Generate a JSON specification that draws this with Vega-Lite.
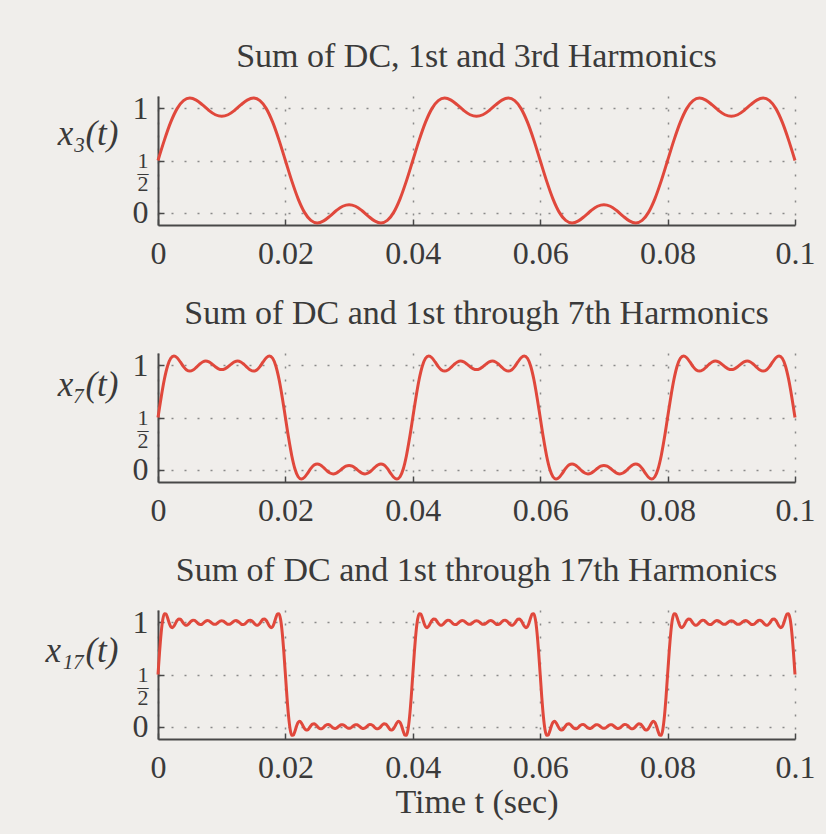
{
"$schema": "https://vega.github.io/schema/vega-lite/v6.json",
"background": "#f0eeeb",
"padding": {"left": 45, "top": 40, "right": 12, "bottom": 18},
"spacing": 128,
"bounds": "flush",
"config": {
"font": "Liberation Serif",
"view": {"stroke": null},
"axis": {"domainColor": "#484848", "domainWidth": 2, "tickColor": "#484848", "tickWidth": 1.5, "tickSize": -6, "grid": true, "gridColor": "#8a8a8a", "gridDash": [2, 11], "gridWidth": 1.5, "labelFont": "Liberation Serif", "labelFontSize": 32, "labelColor": "#3a3a3a", "labelFlush": false, "titleFont": "Liberation Serif", "titleFontSize": 34, "titleColor": "#3a3a3a", "titleFontWeight": "normal"},
"axisX": {"labelPadding": 19},
"axisY": {"labelPadding": 16},
"title": {"font": "Liberation Serif", "fontSize": 34, "fontWeight": "normal", "color": "#3a3a3a", "frame": "group", "anchor": "middle", "baseline": "alphabetic", "offset": 18}
},
"datasets": {
"x3": [
{"t":0,"x":0.5},{"t":0.001,"x":0.6959},{"t":0.002,"x":0.8684},{"t":0.003,"x":0.9986},{"t":0.004,"x":1.076},{"t":0.005,"x":1.1002},{"t":0.006,"x":1.0806},{"t":0.007,"x":1.034},{"t":0.008,"x":0.9807},{"t":0.009,"x":0.9397},
{"t":0.01,"x":0.9244},{"t":0.011,"x":0.9397},{"t":0.012,"x":0.9807},{"t":0.013,"x":1.034},{"t":0.014,"x":1.0806},{"t":0.015,"x":1.1002},{"t":0.016,"x":1.076},{"t":0.017,"x":0.9986},{"t":0.018,"x":0.8684},{"t":0.019,"x":0.6959},
{"t":0.02,"x":0.5},{"t":0.021,"x":0.3041},{"t":0.022,"x":0.1316},{"t":0.023,"x":0.0014},{"t":0.024,"x":-0.076},{"t":0.025,"x":-0.1002},{"t":0.026,"x":-0.0806},{"t":0.027,"x":-0.034},{"t":0.028,"x":0.0193},{"t":0.029,"x":0.0603},
{"t":0.03,"x":0.0756},{"t":0.031,"x":0.0603},{"t":0.032,"x":0.0193},{"t":0.033,"x":-0.034},{"t":0.034,"x":-0.0806},{"t":0.035,"x":-0.1002},{"t":0.036,"x":-0.076},{"t":0.037,"x":0.0014},{"t":0.038,"x":0.1316},{"t":0.039,"x":0.3041},
{"t":0.04,"x":0.5},{"t":0.041,"x":0.6959},{"t":0.042,"x":0.8684},{"t":0.043,"x":0.9986},{"t":0.044,"x":1.076},{"t":0.045,"x":1.1002},{"t":0.046,"x":1.0806},{"t":0.047,"x":1.034},{"t":0.048,"x":0.9807},{"t":0.049,"x":0.9397},
{"t":0.05,"x":0.9244},{"t":0.051,"x":0.9397},{"t":0.052,"x":0.9807},{"t":0.053,"x":1.034},{"t":0.054,"x":1.0806},{"t":0.055,"x":1.1002},{"t":0.056,"x":1.076},{"t":0.057,"x":0.9986},{"t":0.058,"x":0.8684},{"t":0.059,"x":0.6959},
{"t":0.06,"x":0.5},{"t":0.061,"x":0.3041},{"t":0.062,"x":0.1316},{"t":0.063,"x":0.0014},{"t":0.064,"x":-0.076},{"t":0.065,"x":-0.1002},{"t":0.066,"x":-0.0806},{"t":0.067,"x":-0.034},{"t":0.068,"x":0.0193},{"t":0.069,"x":0.0603},
{"t":0.07,"x":0.0756},{"t":0.071,"x":0.0603},{"t":0.072,"x":0.0193},{"t":0.073,"x":-0.034},{"t":0.074,"x":-0.0806},{"t":0.075,"x":-0.1002},{"t":0.076,"x":-0.076},{"t":0.077,"x":0.0014},{"t":0.078,"x":0.1316},{"t":0.079,"x":0.3041},
{"t":0.08,"x":0.5},{"t":0.081,"x":0.6959},{"t":0.082,"x":0.8684},{"t":0.083,"x":0.9986},{"t":0.084,"x":1.076},{"t":0.085,"x":1.1002},{"t":0.086,"x":1.0806},{"t":0.087,"x":1.034},{"t":0.088,"x":0.9807},{"t":0.089,"x":0.9397},
{"t":0.09,"x":0.9244},{"t":0.091,"x":0.9397},{"t":0.092,"x":0.9807},{"t":0.093,"x":1.034},{"t":0.094,"x":1.0806},{"t":0.095,"x":1.1002},{"t":0.096,"x":1.076},{"t":0.097,"x":0.9986},{"t":0.098,"x":0.8684},{"t":0.099,"x":0.6959},
{"t":0.1,"x":0.5}
],
"x7": [
{"t":0,"x":0.5},{"t":0.0005,"x":0.6957},{"t":0.001,"x":0.867},{"t":0.0015,"x":0.9947},{"t":0.002,"x":1.0693},{"t":0.0025,"x":1.0921},{"t":0.003,"x":1.0744},{"t":0.0035,"x":1.0339},{"t":0.004,"x":0.9895},{"t":0.0045,"x":0.9572},
{"t":0.005,"x":0.9459},{"t":0.0055,"x":0.9561},{"t":0.006,"x":0.9814},{"t":0.0065,"x":1.011},{"t":0.007,"x":1.0338},{"t":0.0075,"x":1.0423},{"t":0.008,"x":1.0342},{"t":0.0085,"x":1.0135},{"t":0.009,"x":0.9885},{"t":0.0095,"x":0.9684},
{"t":0.01,"x":0.9608},{"t":0.0105,"x":0.9684},{"t":0.011,"x":0.9885},{"t":0.0115,"x":1.0135},{"t":0.012,"x":1.0342},{"t":0.0125,"x":1.0423},{"t":0.013,"x":1.0338},{"t":0.0135,"x":1.011},{"t":0.014,"x":0.9814},{"t":0.0145,"x":0.9561},
{"t":0.015,"x":0.9459},{"t":0.0155,"x":0.9572},{"t":0.016,"x":0.9895},{"t":0.0165,"x":1.0339},{"t":0.017,"x":1.0744},{"t":0.0175,"x":1.0921},{"t":0.018,"x":1.0693},{"t":0.0185,"x":0.9947},{"t":0.019,"x":0.867},{"t":0.0195,"x":0.6957},
{"t":0.02,"x":0.5},{"t":0.0205,"x":0.3043},{"t":0.021,"x":0.133},{"t":0.0215,"x":0.0053},{"t":0.022,"x":-0.0693},{"t":0.0225,"x":-0.0921},{"t":0.023,"x":-0.0744},{"t":0.0235,"x":-0.0339},{"t":0.024,"x":0.0105},{"t":0.0245,"x":0.0428},
{"t":0.025,"x":0.0541},{"t":0.0255,"x":0.0439},{"t":0.026,"x":0.0186},{"t":0.0265,"x":-0.011},{"t":0.027,"x":-0.0338},{"t":0.0275,"x":-0.0423},{"t":0.028,"x":-0.0342},{"t":0.0285,"x":-0.0135},{"t":0.029,"x":0.0115},{"t":0.0295,"x":0.0316},
{"t":0.03,"x":0.0392},{"t":0.0305,"x":0.0316},{"t":0.031,"x":0.0115},{"t":0.0315,"x":-0.0135},{"t":0.032,"x":-0.0342},{"t":0.0325,"x":-0.0423},{"t":0.033,"x":-0.0338},{"t":0.0335,"x":-0.011},{"t":0.034,"x":0.0186},{"t":0.0345,"x":0.0439},
{"t":0.035,"x":0.0541},{"t":0.0355,"x":0.0428},{"t":0.036,"x":0.0105},{"t":0.0365,"x":-0.0339},{"t":0.037,"x":-0.0744},{"t":0.0375,"x":-0.0921},{"t":0.038,"x":-0.0693},{"t":0.0385,"x":0.0053},{"t":0.039,"x":0.133},{"t":0.0395,"x":0.3043},
{"t":0.04,"x":0.5},{"t":0.0405,"x":0.6957},{"t":0.041,"x":0.867},{"t":0.0415,"x":0.9947},{"t":0.042,"x":1.0693},{"t":0.0425,"x":1.0921},{"t":0.043,"x":1.0744},{"t":0.0435,"x":1.0339},{"t":0.044,"x":0.9895},{"t":0.0445,"x":0.9572},
{"t":0.045,"x":0.9459},{"t":0.0455,"x":0.9561},{"t":0.046,"x":0.9814},{"t":0.0465,"x":1.011},{"t":0.047,"x":1.0338},{"t":0.0475,"x":1.0423},{"t":0.048,"x":1.0342},{"t":0.0485,"x":1.0135},{"t":0.049,"x":0.9885},{"t":0.0495,"x":0.9684},
{"t":0.05,"x":0.9608},{"t":0.0505,"x":0.9684},{"t":0.051,"x":0.9885},{"t":0.0515,"x":1.0135},{"t":0.052,"x":1.0342},{"t":0.0525,"x":1.0423},{"t":0.053,"x":1.0338},{"t":0.0535,"x":1.011},{"t":0.054,"x":0.9814},{"t":0.0545,"x":0.9561},
{"t":0.055,"x":0.9459},{"t":0.0555,"x":0.9572},{"t":0.056,"x":0.9895},{"t":0.0565,"x":1.0339},{"t":0.057,"x":1.0744},{"t":0.0575,"x":1.0921},{"t":0.058,"x":1.0693},{"t":0.0585,"x":0.9947},{"t":0.059,"x":0.867},{"t":0.0595,"x":0.6957},
{"t":0.06,"x":0.5},{"t":0.0605,"x":0.3043},{"t":0.061,"x":0.133},{"t":0.0615,"x":0.0053},{"t":0.062,"x":-0.0693},{"t":0.0625,"x":-0.0921},{"t":0.063,"x":-0.0744},{"t":0.0635,"x":-0.0339},{"t":0.064,"x":0.0105},{"t":0.0645,"x":0.0428},
{"t":0.065,"x":0.0541},{"t":0.0655,"x":0.0439},{"t":0.066,"x":0.0186},{"t":0.0665,"x":-0.011},{"t":0.067,"x":-0.0338},{"t":0.0675,"x":-0.0423},{"t":0.068,"x":-0.0342},{"t":0.0685,"x":-0.0135},{"t":0.069,"x":0.0115},{"t":0.0695,"x":0.0316},
{"t":0.07,"x":0.0392},{"t":0.0705,"x":0.0316},{"t":0.071,"x":0.0115},{"t":0.0715,"x":-0.0135},{"t":0.072,"x":-0.0342},{"t":0.0725,"x":-0.0423},{"t":0.073,"x":-0.0338},{"t":0.0735,"x":-0.011},{"t":0.074,"x":0.0186},{"t":0.0745,"x":0.0439},
{"t":0.075,"x":0.0541},{"t":0.0755,"x":0.0428},{"t":0.076,"x":0.0105},{"t":0.0765,"x":-0.0339},{"t":0.077,"x":-0.0744},{"t":0.0775,"x":-0.0921},{"t":0.078,"x":-0.0693},{"t":0.0785,"x":0.0053},{"t":0.079,"x":0.133},{"t":0.0795,"x":0.3043},
{"t":0.08,"x":0.5},{"t":0.0805,"x":0.6957},{"t":0.081,"x":0.867},{"t":0.0815,"x":0.9947},{"t":0.082,"x":1.0693},{"t":0.0825,"x":1.0921},{"t":0.083,"x":1.0744},{"t":0.0835,"x":1.0339},{"t":0.084,"x":0.9895},{"t":0.0845,"x":0.9572},
{"t":0.085,"x":0.9459},{"t":0.0855,"x":0.9561},{"t":0.086,"x":0.9814},{"t":0.0865,"x":1.011},{"t":0.087,"x":1.0338},{"t":0.0875,"x":1.0423},{"t":0.088,"x":1.0342},{"t":0.0885,"x":1.0135},{"t":0.089,"x":0.9885},{"t":0.0895,"x":0.9684},
{"t":0.09,"x":0.9608},{"t":0.0905,"x":0.9684},{"t":0.091,"x":0.9885},{"t":0.0915,"x":1.0135},{"t":0.092,"x":1.0342},{"t":0.0925,"x":1.0423},{"t":0.093,"x":1.0338},{"t":0.0935,"x":1.011},{"t":0.094,"x":0.9814},{"t":0.0945,"x":0.9561},
{"t":0.095,"x":0.9459},{"t":0.0955,"x":0.9572},{"t":0.096,"x":0.9895},{"t":0.0965,"x":1.0339},{"t":0.097,"x":1.0744},{"t":0.0975,"x":1.0921},{"t":0.098,"x":1.0693},{"t":0.0985,"x":0.9947},{"t":0.099,"x":0.867},{"t":0.0995,"x":0.6957},
{"t":0.1,"x":0.5}
],
"x17": [
{"t":0,"x":0.5},{"t":0.00025,"x":0.7189},{"t":0.0005,"x":0.9031},{"t":0.00075,"x":1.0278},{"t":0.001,"x":1.0847},{"t":0.00125,"x":1.0828},{"t":0.0015,"x":1.0444},{"t":0.00175,"x":0.9962},{"t":0.002,"x":0.9609},{"t":0.00225,"x":0.9505},
{"t":0.0025,"x":0.9644},{"t":0.00275,"x":0.9921},{"t":0.003,"x":1.0192},{"t":0.00325,"x":1.0337},{"t":0.0035,"x":1.031},{"t":0.00375,"x":1.0143},{"t":0.004,"x":0.9929},{"t":0.00425,"x":0.9769},{"t":0.0045,"x":0.9731},{"t":0.00475,"x":0.9821},
{"t":0.005,"x":0.9987},{"t":0.00525,"x":1.0146},{"t":0.0055,"x":1.0226},{"t":0.00575,"x":1.0196},{"t":0.006,"x":1.0075},{"t":0.00625,"x":0.9926},{"t":0.0065,"x":0.9819},{"t":0.00675,"x":0.9802},{"t":0.007,"x":0.988},{"t":0.00725,"x":1.001},
{"t":0.0075,"x":1.0132},{"t":0.00775,"x":1.0187},{"t":0.008,"x":1.0152},{"t":0.00825,"x":1.0046},{"t":0.0085,"x":0.992},{"t":0.00875,"x":0.9835},{"t":0.009,"x":0.983},{"t":0.00925,"x":0.9906},{"t":0.0095,"x":1.0027},{"t":0.00975,"x":1.0134},
{"t":0.01,"x":1.0176},{"t":0.01025,"x":1.0134},{"t":0.0105,"x":1.0027},{"t":0.01075,"x":0.9906},{"t":0.011,"x":0.983},{"t":0.01125,"x":0.9835},{"t":0.0115,"x":0.992},{"t":0.01175,"x":1.0046},{"t":0.012,"x":1.0152},{"t":0.01225,"x":1.0187},
{"t":0.0125,"x":1.0132},{"t":0.01275,"x":1.001},{"t":0.013,"x":0.988},{"t":0.01325,"x":0.9802},{"t":0.0135,"x":0.9819},{"t":0.01375,"x":0.9926},{"t":0.014,"x":1.0075},{"t":0.01425,"x":1.0196},{"t":0.0145,"x":1.0226},{"t":0.01475,"x":1.0146},
{"t":0.015,"x":0.9987},{"t":0.01525,"x":0.9821},{"t":0.0155,"x":0.9731},{"t":0.01575,"x":0.9769},{"t":0.016,"x":0.9929},{"t":0.01625,"x":1.0143},{"t":0.0165,"x":1.031},{"t":0.01675,"x":1.0337},{"t":0.017,"x":1.0192},{"t":0.01725,"x":0.9921},
{"t":0.0175,"x":0.9644},{"t":0.01775,"x":0.9505},{"t":0.018,"x":0.9609},{"t":0.01825,"x":0.9962},{"t":0.0185,"x":1.0444},{"t":0.01875,"x":1.0828},{"t":0.019,"x":1.0847},{"t":0.01925,"x":1.0278},{"t":0.0195,"x":0.9031},{"t":0.01975,"x":0.7189},
{"t":0.02,"x":0.5},{"t":0.02025,"x":0.2811},{"t":0.0205,"x":0.0969},{"t":0.02075,"x":-0.0278},{"t":0.021,"x":-0.0847},{"t":0.02125,"x":-0.0828},{"t":0.0215,"x":-0.0444},{"t":0.02175,"x":0.0038},{"t":0.022,"x":0.0391},{"t":0.02225,"x":0.0495},
{"t":0.0225,"x":0.0356},{"t":0.02275,"x":0.0079},{"t":0.023,"x":-0.0192},{"t":0.02325,"x":-0.0337},{"t":0.0235,"x":-0.031},{"t":0.02375,"x":-0.0143},{"t":0.024,"x":0.0071},{"t":0.02425,"x":0.0231},{"t":0.0245,"x":0.0269},{"t":0.02475,"x":0.0179},
{"t":0.025,"x":0.0013},{"t":0.02525,"x":-0.0146},{"t":0.0255,"x":-0.0226},{"t":0.02575,"x":-0.0196},{"t":0.026,"x":-0.0075},{"t":0.02625,"x":0.0074},{"t":0.0265,"x":0.0181},{"t":0.02675,"x":0.0198},{"t":0.027,"x":0.012},{"t":0.02725,"x":-0.001},
{"t":0.0275,"x":-0.0132},{"t":0.02775,"x":-0.0187},{"t":0.028,"x":-0.0152},{"t":0.02825,"x":-0.0046},{"t":0.0285,"x":0.008},{"t":0.02875,"x":0.0165},{"t":0.029,"x":0.017},{"t":0.02925,"x":0.0094},{"t":0.0295,"x":-0.0027},{"t":0.02975,"x":-0.0134},
{"t":0.03,"x":-0.0176},{"t":0.03025,"x":-0.0134},{"t":0.0305,"x":-0.0027},{"t":0.03075,"x":0.0094},{"t":0.031,"x":0.017},{"t":0.03125,"x":0.0165},{"t":0.0315,"x":0.008},{"t":0.03175,"x":-0.0046},{"t":0.032,"x":-0.0152},{"t":0.03225,"x":-0.0187},
{"t":0.0325,"x":-0.0132},{"t":0.03275,"x":-0.001},{"t":0.033,"x":0.012},{"t":0.03325,"x":0.0198},{"t":0.0335,"x":0.0181},{"t":0.03375,"x":0.0074},{"t":0.034,"x":-0.0075},{"t":0.03425,"x":-0.0196},{"t":0.0345,"x":-0.0226},{"t":0.03475,"x":-0.0146},
{"t":0.035,"x":0.0013},{"t":0.03525,"x":0.0179},{"t":0.0355,"x":0.0269},{"t":0.03575,"x":0.0231},{"t":0.036,"x":0.0071},{"t":0.03625,"x":-0.0143},{"t":0.0365,"x":-0.031},{"t":0.03675,"x":-0.0337},{"t":0.037,"x":-0.0192},{"t":0.03725,"x":0.0079},
{"t":0.0375,"x":0.0356},{"t":0.03775,"x":0.0495},{"t":0.038,"x":0.0391},{"t":0.03825,"x":0.0038},{"t":0.0385,"x":-0.0444},{"t":0.03875,"x":-0.0828},{"t":0.039,"x":-0.0847},{"t":0.03925,"x":-0.0278},{"t":0.0395,"x":0.0969},{"t":0.03975,"x":0.2811},
{"t":0.04,"x":0.5},{"t":0.04025,"x":0.7189},{"t":0.0405,"x":0.9031},{"t":0.04075,"x":1.0278},{"t":0.041,"x":1.0847},{"t":0.04125,"x":1.0828},{"t":0.0415,"x":1.0444},{"t":0.04175,"x":0.9962},{"t":0.042,"x":0.9609},{"t":0.04225,"x":0.9505},
{"t":0.0425,"x":0.9644},{"t":0.04275,"x":0.9921},{"t":0.043,"x":1.0192},{"t":0.04325,"x":1.0337},{"t":0.0435,"x":1.031},{"t":0.04375,"x":1.0143},{"t":0.044,"x":0.9929},{"t":0.04425,"x":0.9769},{"t":0.0445,"x":0.9731},{"t":0.04475,"x":0.9821},
{"t":0.045,"x":0.9987},{"t":0.04525,"x":1.0146},{"t":0.0455,"x":1.0226},{"t":0.04575,"x":1.0196},{"t":0.046,"x":1.0075},{"t":0.04625,"x":0.9926},{"t":0.0465,"x":0.9819},{"t":0.04675,"x":0.9802},{"t":0.047,"x":0.988},{"t":0.04725,"x":1.001},
{"t":0.0475,"x":1.0132},{"t":0.04775,"x":1.0187},{"t":0.048,"x":1.0152},{"t":0.04825,"x":1.0046},{"t":0.0485,"x":0.992},{"t":0.04875,"x":0.9835},{"t":0.049,"x":0.983},{"t":0.04925,"x":0.9906},{"t":0.0495,"x":1.0027},{"t":0.04975,"x":1.0134},
{"t":0.05,"x":1.0176},{"t":0.05025,"x":1.0134},{"t":0.0505,"x":1.0027},{"t":0.05075,"x":0.9906},{"t":0.051,"x":0.983},{"t":0.05125,"x":0.9835},{"t":0.0515,"x":0.992},{"t":0.05175,"x":1.0046},{"t":0.052,"x":1.0152},{"t":0.05225,"x":1.0187},
{"t":0.0525,"x":1.0132},{"t":0.05275,"x":1.001},{"t":0.053,"x":0.988},{"t":0.05325,"x":0.9802},{"t":0.0535,"x":0.9819},{"t":0.05375,"x":0.9926},{"t":0.054,"x":1.0075},{"t":0.05425,"x":1.0196},{"t":0.0545,"x":1.0226},{"t":0.05475,"x":1.0146},
{"t":0.055,"x":0.9987},{"t":0.05525,"x":0.9821},{"t":0.0555,"x":0.9731},{"t":0.05575,"x":0.9769},{"t":0.056,"x":0.9929},{"t":0.05625,"x":1.0143},{"t":0.0565,"x":1.031},{"t":0.05675,"x":1.0337},{"t":0.057,"x":1.0192},{"t":0.05725,"x":0.9921},
{"t":0.0575,"x":0.9644},{"t":0.05775,"x":0.9505},{"t":0.058,"x":0.9609},{"t":0.05825,"x":0.9962},{"t":0.0585,"x":1.0444},{"t":0.05875,"x":1.0828},{"t":0.059,"x":1.0847},{"t":0.05925,"x":1.0278},{"t":0.0595,"x":0.9031},{"t":0.05975,"x":0.7189},
{"t":0.06,"x":0.5},{"t":0.06025,"x":0.2811},{"t":0.0605,"x":0.0969},{"t":0.06075,"x":-0.0278},{"t":0.061,"x":-0.0847},{"t":0.06125,"x":-0.0828},{"t":0.0615,"x":-0.0444},{"t":0.06175,"x":0.0038},{"t":0.062,"x":0.0391},{"t":0.06225,"x":0.0495},
{"t":0.0625,"x":0.0356},{"t":0.06275,"x":0.0079},{"t":0.063,"x":-0.0192},{"t":0.06325,"x":-0.0337},{"t":0.0635,"x":-0.031},{"t":0.06375,"x":-0.0143},{"t":0.064,"x":0.0071},{"t":0.06425,"x":0.0231},{"t":0.0645,"x":0.0269},{"t":0.06475,"x":0.0179},
{"t":0.065,"x":0.0013},{"t":0.06525,"x":-0.0146},{"t":0.0655,"x":-0.0226},{"t":0.06575,"x":-0.0196},{"t":0.066,"x":-0.0075},{"t":0.06625,"x":0.0074},{"t":0.0665,"x":0.0181},{"t":0.06675,"x":0.0198},{"t":0.067,"x":0.012},{"t":0.06725,"x":-0.001},
{"t":0.0675,"x":-0.0132},{"t":0.06775,"x":-0.0187},{"t":0.068,"x":-0.0152},{"t":0.06825,"x":-0.0046},{"t":0.0685,"x":0.008},{"t":0.06875,"x":0.0165},{"t":0.069,"x":0.017},{"t":0.06925,"x":0.0094},{"t":0.0695,"x":-0.0027},{"t":0.06975,"x":-0.0134},
{"t":0.07,"x":-0.0176},{"t":0.07025,"x":-0.0134},{"t":0.0705,"x":-0.0027},{"t":0.07075,"x":0.0094},{"t":0.071,"x":0.017},{"t":0.07125,"x":0.0165},{"t":0.0715,"x":0.008},{"t":0.07175,"x":-0.0046},{"t":0.072,"x":-0.0152},{"t":0.07225,"x":-0.0187},
{"t":0.0725,"x":-0.0132},{"t":0.07275,"x":-0.001},{"t":0.073,"x":0.012},{"t":0.07325,"x":0.0198},{"t":0.0735,"x":0.0181},{"t":0.07375,"x":0.0074},{"t":0.074,"x":-0.0075},{"t":0.07425,"x":-0.0196},{"t":0.0745,"x":-0.0226},{"t":0.07475,"x":-0.0146},
{"t":0.075,"x":0.0013},{"t":0.07525,"x":0.0179},{"t":0.0755,"x":0.0269},{"t":0.07575,"x":0.0231},{"t":0.076,"x":0.0071},{"t":0.07625,"x":-0.0143},{"t":0.0765,"x":-0.031},{"t":0.07675,"x":-0.0337},{"t":0.077,"x":-0.0192},{"t":0.07725,"x":0.0079},
{"t":0.0775,"x":0.0356},{"t":0.07775,"x":0.0495},{"t":0.078,"x":0.0391},{"t":0.07825,"x":0.0038},{"t":0.0785,"x":-0.0444},{"t":0.07875,"x":-0.0828},{"t":0.079,"x":-0.0847},{"t":0.07925,"x":-0.0278},{"t":0.0795,"x":0.0969},{"t":0.07975,"x":0.2811},
{"t":0.08,"x":0.5},{"t":0.08025,"x":0.7189},{"t":0.0805,"x":0.9031},{"t":0.08075,"x":1.0278},{"t":0.081,"x":1.0847},{"t":0.08125,"x":1.0828},{"t":0.0815,"x":1.0444},{"t":0.08175,"x":0.9962},{"t":0.082,"x":0.9609},{"t":0.08225,"x":0.9505},
{"t":0.0825,"x":0.9644},{"t":0.08275,"x":0.9921},{"t":0.083,"x":1.0192},{"t":0.08325,"x":1.0337},{"t":0.0835,"x":1.031},{"t":0.08375,"x":1.0143},{"t":0.084,"x":0.9929},{"t":0.08425,"x":0.9769},{"t":0.0845,"x":0.9731},{"t":0.08475,"x":0.9821},
{"t":0.085,"x":0.9987},{"t":0.08525,"x":1.0146},{"t":0.0855,"x":1.0226},{"t":0.08575,"x":1.0196},{"t":0.086,"x":1.0075},{"t":0.08625,"x":0.9926},{"t":0.0865,"x":0.9819},{"t":0.08675,"x":0.9802},{"t":0.087,"x":0.988},{"t":0.08725,"x":1.001},
{"t":0.0875,"x":1.0132},{"t":0.08775,"x":1.0187},{"t":0.088,"x":1.0152},{"t":0.08825,"x":1.0046},{"t":0.0885,"x":0.992},{"t":0.08875,"x":0.9835},{"t":0.089,"x":0.983},{"t":0.08925,"x":0.9906},{"t":0.0895,"x":1.0027},{"t":0.08975,"x":1.0134},
{"t":0.09,"x":1.0176},{"t":0.09025,"x":1.0134},{"t":0.0905,"x":1.0027},{"t":0.09075,"x":0.9906},{"t":0.091,"x":0.983},{"t":0.09125,"x":0.9835},{"t":0.0915,"x":0.992},{"t":0.09175,"x":1.0046},{"t":0.092,"x":1.0152},{"t":0.09225,"x":1.0187},
{"t":0.0925,"x":1.0132},{"t":0.09275,"x":1.001},{"t":0.093,"x":0.988},{"t":0.09325,"x":0.9802},{"t":0.0935,"x":0.9819},{"t":0.09375,"x":0.9926},{"t":0.094,"x":1.0075},{"t":0.09425,"x":1.0196},{"t":0.0945,"x":1.0226},{"t":0.09475,"x":1.0146},
{"t":0.095,"x":0.9987},{"t":0.09525,"x":0.9821},{"t":0.0955,"x":0.9731},{"t":0.09575,"x":0.9769},{"t":0.096,"x":0.9929},{"t":0.09625,"x":1.0143},{"t":0.0965,"x":1.031},{"t":0.09675,"x":1.0337},{"t":0.097,"x":1.0192},{"t":0.09725,"x":0.9921},
{"t":0.0975,"x":0.9644},{"t":0.09775,"x":0.9505},{"t":0.098,"x":0.9609},{"t":0.09825,"x":0.9962},{"t":0.0985,"x":1.0444},{"t":0.09875,"x":1.0828},{"t":0.099,"x":1.0847},{"t":0.09925,"x":1.0278},{"t":0.0995,"x":0.9031},{"t":0.09975,"x":0.7189},
{"t":0.1,"x":0.5}
]
},
"vconcat": [
{
"data": {"name": "x3"},
"title": "Sum of DC, 1st and 3rd Harmonics",
"width": 637, "height": 129,
"mark": {"type": "line", "color": "#e0483c", "strokeWidth": 3, "interpolate": "monotone"},
"encoding": {
"x": {"field": "t", "type": "quantitative", "scale": {"domain": [0, 0.1], "nice": false, "zero": false}, "axis": {"values": [0, 0.02, 0.04, 0.06, 0.08, 0.1], "format": "~g", "title": null}},
"y": {"field": "x", "type": "quantitative", "scale": {"domain": [-0.12, 1.12], "nice": false, "zero": false}, "axis": {"values": [0, 0.5, 1], "labelExpr": "datum.value == 0.5 ? ['1', '–', '2'] : (datum.value == 1 ? '1' : '0')", "labelFontSize": {"condition": {"test": "datum.value == 0.5", "value": 22}, "value": 32}, "labelLineHeight": 11.5, "title": "x₃(t)", "titleFontSize": 35, "titleAngle": 0, "titleAlign": "right", "titleBaseline": "middle", "titleX": -40, "titleY": 37, "titleFontStyle": "italic"}}
}
},
{
"data": {"name": "x7"},
"title": "Sum of DC and 1st through 7th Harmonics",
"width": 637, "height": 129,
"mark": {"type": "line", "color": "#e0483c", "strokeWidth": 3, "interpolate": "monotone"},
"encoding": {
"x": {"field": "t", "type": "quantitative", "scale": {"domain": [0, 0.1], "nice": false, "zero": false}, "axis": {"values": [0, 0.02, 0.04, 0.06, 0.08, 0.1], "format": "~g", "title": null}},
"y": {"field": "x", "type": "quantitative", "scale": {"domain": [-0.12, 1.12], "nice": false, "zero": false}, "axis": {"values": [0, 0.5, 1], "labelExpr": "datum.value == 0.5 ? ['1', '–', '2'] : (datum.value == 1 ? '1' : '0')", "labelFontSize": {"condition": {"test": "datum.value == 0.5", "value": 22}, "value": 32}, "labelLineHeight": 11.5, "title": "x₇(t)", "titleFontSize": 35, "titleAngle": 0, "titleAlign": "right", "titleBaseline": "middle", "titleX": -40, "titleY": 31, "titleFontStyle": "italic"}}
}
},
{
"data": {"name": "x17"},
"title": "Sum of DC and 1st through 17th Harmonics",
"width": 637, "height": 129,
"mark": {"type": "line", "color": "#e0483c", "strokeWidth": 3, "interpolate": "monotone"},
"encoding": {
"x": {"field": "t", "type": "quantitative", "scale": {"domain": [0, 0.1], "nice": false, "zero": false}, "axis": {"values": [0, 0.02, 0.04, 0.06, 0.08, 0.1], "format": "~g", "title": "Time t (sec)", "titlePadding": 2}},
"y": {"field": "x", "type": "quantitative", "scale": {"domain": [-0.12, 1.12], "nice": false, "zero": false}, "axis": {"values": [0, 0.5, 1], "labelExpr": "datum.value == 0.5 ? ['1', '–', '2'] : (datum.value == 1 ? '1' : '0')", "labelFontSize": {"condition": {"test": "datum.value == 0.5", "value": 22}, "value": 32}, "labelLineHeight": 11.5, "title": "x₁₇(t)", "titleFontSize": 35, "titleAngle": 0, "titleAlign": "right", "titleBaseline": "middle", "titleX": -40, "titleY": 40, "titleFontStyle": "italic"}}
}
}
]
}
